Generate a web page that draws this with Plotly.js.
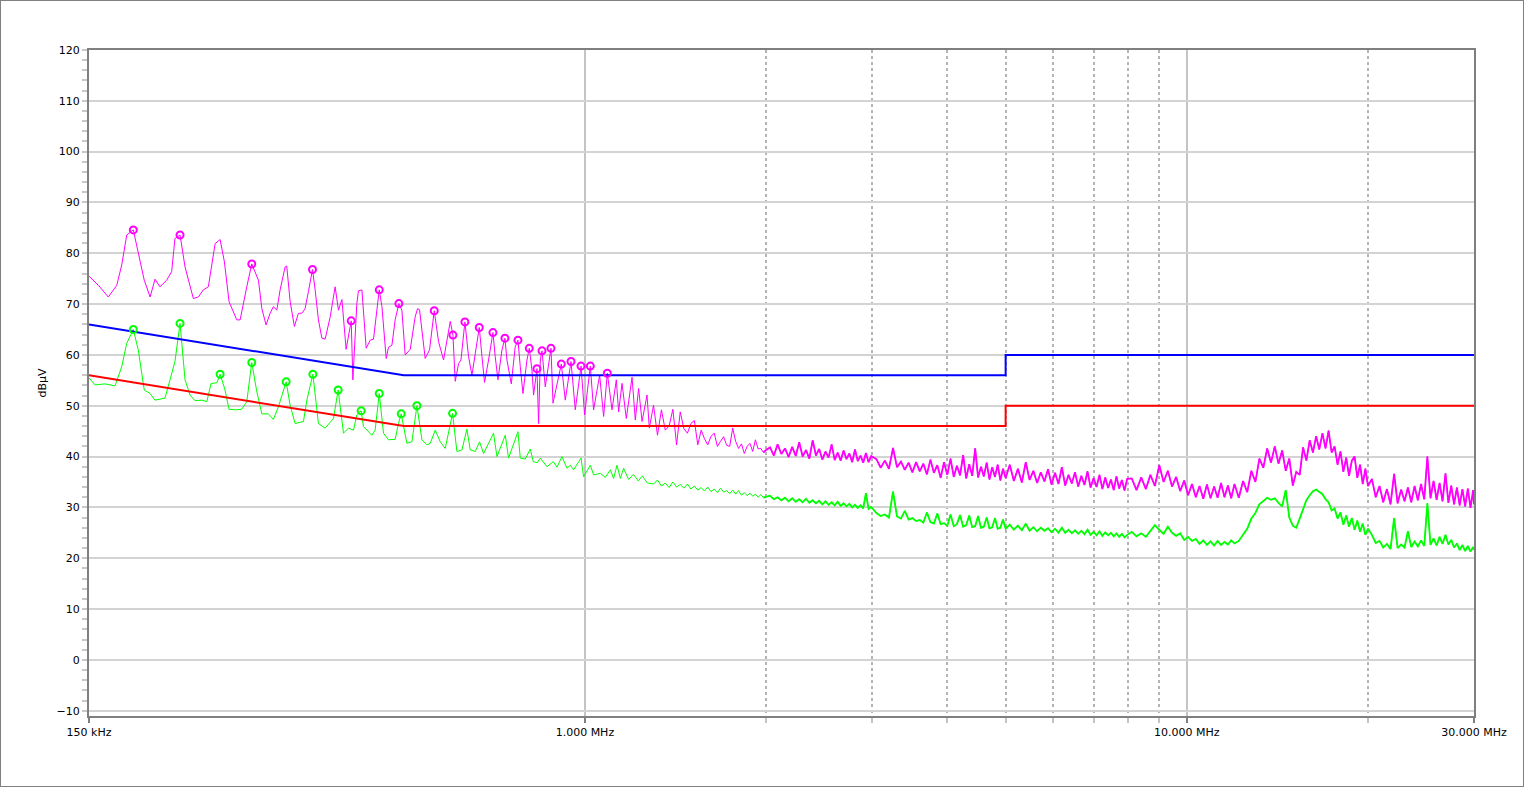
<!DOCTYPE html>
<html><head><meta charset="utf-8">
<script src="https://cdn.plot.ly/plotly-3.0.1.min.js"></script>
<style>html,body{margin:0;padding:0;background:#fff;}#chart{width:1524px;height:787px;box-sizing:border-box;border:1px solid #808080;}</style>
</head><body><div id="chart"></div><script>
// Frequencies in MHz, levels in dBµV
const magLowF = [0.1500,0.1555,0.1615,0.1668,0.1700,0.1733,0.1777,0.1811,0.1853,0.1895,
0.1931,0.1968,0.2019,0.2058,0.2084,0.2125,0.2166,0.2236,0.2279,0.2323,
0.2368,0.2430,0.2477,0.2518,0.2563,0.2640,0.2674,0.2743,0.2796,0.2868,
0.2906,0.2953,0.2999,0.3037,0.3077,0.3116,0.3176,0.3196,0.3238,0.3291,
0.3342,0.3386,0.3428,0.3473,0.3527,0.3563,0.3608,0.3656,0.3702,0.3774,
0.3846,0.3895,0.3947,0.4011,0.4090,0.4116,0.4179,0.4205,0.4261,0.4331,
0.4398,0.4454,0.4553,0.4600,0.4676,0.4717,0.4779,0.4839,0.4908,0.4965,
0.5028,0.5126,0.5224,0.5271,0.5312,0.5428,0.5519,0.5619,0.5713,0.5823,
0.5974,0.6036,0.6089,0.6167,0.6224,0.6319,0.6407,0.6491,0.6590,0.6675,
0.6745,0.6811,0.6917,0.7034,0.7095,0.7170,0.7281,0.7364,0.7421,0.7545,
0.7660,0.7740,0.7809,0.7890,0.8011,0.8083,0.8167,0.8217,0.8324,0.8376,
0.8431,0.8486,0.8593,0.8703,0.8783,0.8851,0.8963,0.9137,0.9276,0.9482,
0.9638,0.9852,0.9988,1.0209,1.0338,1.0580,1.0742,1.0895,1.1093,1.1276,
1.1376,1.1526,1.1716,1.1976,1.2126,1.2281,1.2443,1.2681,1.2795];
const magLowV = [75.5,73.7,71.4,73.7,77.7,83.6,84.6,80,74.7,71.4,
74.9,73.4,74.7,76.4,82.9,83.6,77.3,71.1,71.4,72.8,
73.4,81.9,82.7,78.3,70.5,66.9,66.9,73.4,77.9,74.7,
69.1,65.9,68.2,69.5,68.8,72.8,77.3,77.5,70.5,65.6,
68.2,68.2,69.1,72.5,76.8,72.8,66.9,63.3,63.1,67.5,
73.4,68.8,70.9,61.1,66.7,55.1,70.1,72.6,72.8,61.3,
62.9,63.1,72.8,69.5,59.3,61.5,61.9,66.9,70.1,68.8,
60,61.1,67.5,69.1,68.9,59.3,61,68.7,62.6,59,
66.6,63.9,54.8,58.3,59,66.5,59.7,56,61.3,65.4,
59.7,54.6,59,64.4,59.7,55.1,61,63.3,59,54.3,
61.6,62.9,57.7,52.4,59,61.3,57,52.1,57.3,46.5,
59,60.8,53.7,58,61.3,50.5,53.7,58.2,51.1,58.7,
49.2,57.8,48.2,57.8,49.2,56,47.9,56.4,49.2,55.1,
48.8,54.4,47.5,55.6,47.2,53.4,46.9,52.1,45.6];

const grnLowF = [0.1500,0.1535,0.1595,0.1657,0.1700,0.1733,0.1777,0.1811,0.1853,0.1895,
0.1931,0.2006,0.2045,0.2084,0.2125,0.2166,0.2208,0.2250,0.2309,0.2354,
0.2393,0.2446,0.2477,0.2524,0.2563,0.2622,0.2691,0.2743,0.2796,0.2850,
0.2906,0.2979,0.3037,0.3096,0.3189,0.3238,0.3300,0.3407,0.3452,0.3532,
0.3608,0.3702,0.3822,0.3891,0.3971,0.4047,0.4126,0.4179,0.4249,0.4287,
0.4427,0.4482,0.4553,0.4628,0.4717,0.4839,0.4901,0.4952,0.5061,0.5159,
0.5259,0.5361,0.5464,0.5534,0.5640,0.5750,0.5860,0.6027,0.6128,0.6247,
0.6367,0.6449,0.6573,0.6683,0.6786,0.7050,0.7143,0.7373,0.7467,0.7740,
0.7809,0.7959,0.8114,0.8208,0.8335,0.8431,0.8649,0.8861,0.8987,0.9161,
0.9337,0.9457,0.9577,0.9852,0.9950,1.0209,1.0338,1.0608,1.0811,1.1021,
1.1160,1.1306,1.1451,1.1596,1.1820,1.2036,1.2268,1.2457,1.2697];
const grnLowV = [55.5,54.1,54.3,53.9,57.7,62.3,65,61,53.1,52.4,
51.1,51.5,55.1,58.7,66.2,55.1,52.1,51,51.1,50.8,
54.4,54.5,56.2,53.1,49.3,49.2,49.3,50.8,58.5,52.8,
48.4,48.4,47.3,49.8,54.7,50.1,46.5,46.9,51.1,56.2,
46.5,45.6,47.5,53.1,44.6,45.6,45.2,48.2,49,45.9,
44.2,45.2,52.4,44.6,43.3,43.4,46.5,48.4,42.6,42.9,
50,43.3,42.3,42.6,45.2,42.9,41.6,48.5,41,41.3,
45.4,41.3,41,42.9,40.6,44.6,40,44.2,39.7,44.9,
39.7,39.5,41.5,39,38.8,39.7,38,39,37.9,40,
37.7,38.3,37.4,39.7,36,38.3,36.4,36.7,35.9,37.4,
35.7,38.3,35.7,37.7,35.5,36.5,35.2,36.2,34.8];

// shared sweep frequencies above 1.3 MHz
const sweepF = [
1.30,1.32,1.34,1.36,1.38,1.40,1.42,1.44,1.46,1.48,1.50,1.52,1.54,1.56,1.58,1.60,1.62,1.64,1.66,1.68,1.70,1.72,1.74,1.76,1.78,1.80,1.82,1.84,1.86,1.88,1.90,1.92,1.94,1.96,1.98,2.00,
2.03,2.06,2.09,2.12,2.15,2.18,2.21,2.24,2.27,2.30,2.33,2.36,2.39,2.42,2.45,2.48,2.51,2.54,2.57,2.60,2.63,2.66,2.69,2.72,2.75,2.78,2.81,2.84,2.87,2.90,2.93,2.96,2.99,
3.05,3.10,3.15,3.20,3.25,3.30,3.35,3.40,3.45,3.50,3.55,3.60,3.65,3.70,3.75,3.80,3.85,3.90,3.95,4.00,4.05,4.10,4.15,4.20,4.25,4.30,4.35,4.40,4.45,4.50,4.55,4.60,4.65,4.70,4.75,4.80,4.85,4.90,4.95,5.00,
5.08,5.16,5.24,5.32,5.40,5.48,5.56,5.64,5.72,5.80,5.88,5.96,6.04,6.12,6.20,6.28,6.36,6.44,6.52,6.60,6.68,6.76,6.84,6.92,7.00,7.08,7.16,7.24,7.32,7.40,7.48,7.56,7.64,7.72,7.80,7.88,7.96,
8.10,8.25,8.40,8.55,8.70,8.85,9.00,9.15,9.30,9.45,9.60,9.75,9.90,10.05,10.20,10.35,10.50,10.65,10.80,10.95,11.10,11.25,11.40,11.55,11.70,11.85,12.00,
12.2,12.4,12.6,12.8,13.0,13.2,13.4,13.6,13.8,14.0,14.2,14.4,14.6,14.8,15.0,15.2,15.4,15.6,15.8,16.0,16.2,16.4,16.6,16.8,17.0,17.2,17.4,17.6,17.8,18.0,18.2,18.4,18.6,18.8,19.0,19.2,19.4,19.6,19.8,20.0,
20.3,20.6,20.9,21.2,21.5,21.8,22.1,22.4,22.7,23.0,23.3,23.6,23.9,24.2,24.5,24.8,25.1,25.4,25.7,26.0,26.3,26.6,26.9,27.2,27.5,27.8,28.1,28.4,28.7,29.0,29.3,29.6,29.9,30.0];
const magSweepV = [
50.1,44.2,49.2,45.2,46.0,49.3,42.3,48.8,45.5,44.6,46.5,47.1,42.3,45.2,43.5,42.3,44.0,44.6,42.0,43.0,43.9,42.2,42.0,45.6,43.0,41.6,42.5,40.6,42.0,42.6,41.0,43.3,41.5,41.6,40.8,41.3,
41.8,40.2,42.4,40.5,41.6,39.9,41.9,40.1,42.8,40.0,41.3,39.6,43.2,40.2,41.5,39.4,41.0,39.8,42.4,39.3,40.8,39.2,41.2,39.5,40.6,38.9,41.4,39.1,40.2,38.8,40.7,38.9,40.1,
39.5,37.8,39.2,37.6,41.7,37.9,39.0,37.4,38.8,36.9,38.9,37.1,38.6,36.5,39.4,36.8,38.3,35.8,38.9,36.4,39.6,36.0,38.2,36.3,40.3,35.7,38.5,36.2,41.6,35.9,38.0,36.1,38.8,35.5,37.9,36.0,38.4,35.3,37.6,35.8,
38.4,35.2,37.6,34.9,38.9,35.4,37.2,34.8,36.9,35.1,37.5,34.5,36.8,34.6,37.9,34.3,36.4,34.7,36.9,34.1,36.2,34.4,37.1,33.9,35.8,34.0,36.4,33.6,35.9,33.8,35.5,33.4,36.1,33.7,35.4,33.3,35.6,
35.7,33.4,35.9,33.6,36.4,34.2,38.3,35.0,37.2,34.1,36.0,33.2,35.3,32.4,34.6,32.0,34.2,31.7,34.5,31.8,34.1,31.9,34.8,32.0,34.3,31.8,34.6,
31.9,35.2,33.0,37.2,35.0,39.6,37.8,41.6,38.8,42.0,38.6,41.2,37.2,39.6,34.3,37.0,36.4,41.8,39.2,43.2,40.8,44.0,41.4,44.6,41.6,45.1,40.8,42.0,38.4,41.0,37.0,39.8,36.2,39.2,40.0,35.8,38.4,34.6,37.6,34.2,
35.6,32.0,34.2,31.0,33.6,30.6,36.6,30.8,33.5,31.2,33.9,31.0,34.2,31.4,34.6,31.6,40.0,31.8,35.2,31.5,34.8,31.2,36.7,30.9,34.3,30.6,33.9,30.4,33.6,30.2,33.7,29.9,33.4,30.6];
const grnSweepV = [
34.6,35.4,34.2,34.8,33.9,35.0,34.0,34.5,33.8,34.6,33.6,34.2,33.4,33.9,33.2,34.0,33.1,33.6,32.9,33.8,33.0,33.3,32.7,33.4,32.6,33.3,32.4,32.9,32.3,32.8,32.2,32.6,32.0,32.5,31.9,32.1,
32.3,31.6,32.0,31.4,31.9,31.2,31.8,31.1,31.6,31.0,31.7,30.9,31.4,30.8,31.3,30.6,31.2,30.5,31.0,30.4,31.1,30.3,30.8,30.2,30.7,30.0,30.5,29.9,30.4,29.8,32.8,29.7,30.1,
28.9,28.3,28.6,28.0,33.1,28.2,27.8,29.3,27.6,27.9,27.3,27.5,27.0,29.0,27.1,26.8,28.8,26.7,26.9,26.4,28.6,26.3,26.7,28.5,26.2,26.5,28.4,26.1,26.3,28.3,26.0,26.2,28.0,25.9,26.1,27.9,25.8,26.0,27.6,25.8,
26.6,25.6,26.4,25.5,26.8,25.4,26.1,25.3,26.0,25.4,25.9,25.1,25.8,25.0,26.0,25.0,25.6,24.9,25.5,24.8,25.4,24.7,25.6,24.6,25.2,24.5,25.3,24.4,25.1,24.5,25.0,24.3,24.9,24.2,24.8,24.1,24.6,
25.2,24.3,24.9,24.2,25.4,26.5,25.6,24.8,26.2,25.0,24.4,24.9,23.6,24.2,23.4,23.8,22.8,23.5,22.6,23.3,22.5,23.4,22.6,23.2,22.7,23.5,22.9,
23.4,24.6,25.8,27.8,28.9,30.6,31.2,31.9,31.5,31.8,30.9,30.2,33.4,28.0,26.4,26.0,27.8,29.8,31.4,32.4,33.2,33.5,33.0,32.6,31.6,31.0,29.4,29.8,27.8,29.0,26.6,28.4,26.2,27.9,25.6,27.4,25.2,26.8,24.6,25.8,
24.6,23.0,23.4,22.1,22.8,21.8,27.9,22.0,22.7,22.1,25.3,22.2,23.3,22.3,23.5,22.4,30.8,22.6,23.9,22.5,24.2,22.8,24.6,22.7,23.6,22.1,22.9,21.6,22.6,21.4,22.4,21.3,22.2,21.6];

const limitF = [0.15, 0.5, 5, 5, 30];
const qpLimit = [66, 56, 56, 60, 60];
const avLimit = [56, 46, 46, 50, 50];

const magPeakF = [0.1777,0.2125,0.2796,0.3527,0.4090,0.4553,0.4908,0.5619,0.6036,0.6319,0.6675,0.7034,0.7364,0.7740,0.8083,0.8324,0.8486,0.8783,0.9137,0.9482,0.9852,1.0209,1.0895];
const magPeakV = [84.6,83.6,77.9,76.8,66.7,72.8,70.1,68.7,63.9,66.5,65.4,64.4,63.3,62.9,61.3,57.3,60.8,61.3,58.2,58.7,57.8,57.8,56.4];
const grnPeakF = [0.1777,0.2125,0.2477,0.2796,0.3189,0.3532,0.3891,0.4249,0.4553,0.4952,0.5259,0.6027];
const grnPeakV = [65,66.2,56.2,58.5,54.7,56.2,53.1,49,52.4,48.4,50,48.5];

const xTickVals = [0.15, 1, 10, 30];
const xTickText = ['150 kHz', '1.000 MHz', '10.000 MHz', '30.000 MHz'];
const xMinorVals = [2, 3, 4, 5, 6, 7, 8, 9, 20];

// dense (noise-band) part of the sweep is drawn a little heavier
const denseIdx = sweepF.map((f, i) => i).filter(i => sweepF[i] >= 1.98);
const pick = (arr) => denseIdx.map(i => arr[i]);

const MAG = '#ff00ff', GRN = '#00ff00';
const traces = [
  {x: magLowF.concat(sweepF), y: magLowV.concat(magSweepV), type: 'scatter', mode: 'lines',
   line: {color: MAG, width: 1}, hoverinfo: 'skip'},
  {x: pick(sweepF), y: pick(magSweepV), type: 'scatter', mode: 'lines',
   line: {color: MAG, width: 1.8}, hoverinfo: 'skip'},
  {x: grnLowF.concat(sweepF), y: grnLowV.concat(grnSweepV), type: 'scatter', mode: 'lines',
   line: {color: GRN, width: 1}, hoverinfo: 'skip'},
  {x: pick(sweepF), y: pick(grnSweepV), type: 'scatter', mode: 'lines',
   line: {color: GRN, width: 1.8}, hoverinfo: 'skip'},
  {x: limitF, y: qpLimit, type: 'scatter', mode: 'lines', line: {color: '#0000ff', width: 2}, hoverinfo: 'skip'},
  {x: limitF, y: avLimit, type: 'scatter', mode: 'lines', line: {color: '#ff0000', width: 2}, hoverinfo: 'skip'},
  {x: magPeakF, y: magPeakV, type: 'scatter', mode: 'markers',
   marker: {symbol: 'circle-open', size: 7, color: MAG, line: {width: 2, color: MAG}}, hoverinfo: 'skip'},
  {x: grnPeakF, y: grnPeakV, type: 'scatter', mode: 'markers',
   marker: {symbol: 'circle-open', size: 7, color: GRN, line: {width: 2, color: GRN}}, hoverinfo: 'skip'}
];

const layout = {
  width: 1522, height: 785,
  margin: {l: 88, r: 49, t: 49, b: 70},
  paper_bgcolor: '#ffffff', plot_bgcolor: '#ffffff',
  showlegend: false,
  font: {family: 'DejaVu Sans, Verdana, sans-serif', size: 11, color: '#000000'},
  xaxis: {
    type: 'log', range: [Math.log10(0.15), Math.log10(30)],
    tickmode: 'array', tickvals: xTickVals, ticktext: xTickText,
    ticks: 'outside', ticklen: 5, tickwidth: 2, tickcolor: '#7f7f7f',
    showgrid: true, gridcolor: '#c4c4c4', gridwidth: 2,
    showline: true, linecolor: '#7f7f7f', linewidth: 2, mirror: true,
    zeroline: false, fixedrange: true,
    minor: {tickmode: 'array', tickvals: xMinorVals, showgrid: true, gridcolor: '#b4b4b4', gridwidth: 2,
            griddash: 'dot', ticks: 'outside', ticklen: 5, tickwidth: 2, tickcolor: '#c4c4c4'}
  },
  yaxis: {
    range: [-11.05, 120], tick0: 0, dtick: 10,
    ticks: 'outside', ticklen: 5, tickwidth: 2, tickcolor: '#c8c8c8',
    showgrid: true, gridcolor: '#d3d3d3', gridwidth: 2,
    showline: true, linecolor: '#7f7f7f', linewidth: 2, mirror: true,
    zeroline: false, fixedrange: true,
    title: {text: 'dBµV', font: {size: 11}, standoff: 8},
    minor: {dtick: 2, tick0: 0, ticks: 'outside', ticklen: 5, tickwidth: 2, tickcolor: '#c8c8c8', showgrid: false}
  }
};
Plotly.newPlot('chart', traces, layout, {displayModeBar: false, staticPlot: true});
</script></body></html>
